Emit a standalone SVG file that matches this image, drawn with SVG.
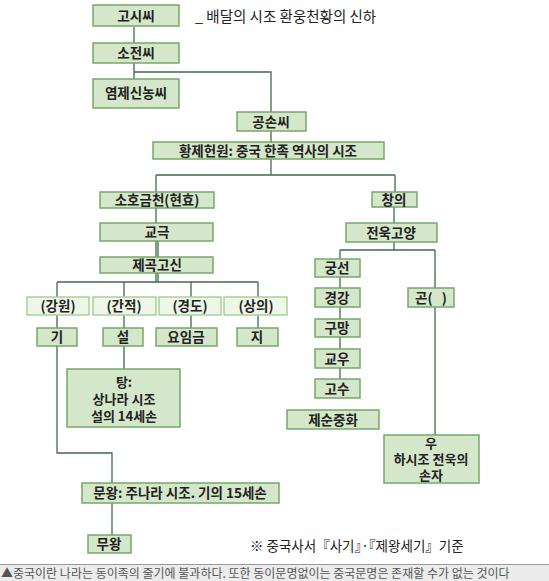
<svg xmlns="http://www.w3.org/2000/svg" width="549" height="581" viewBox="0 0 549 581">
<style>
.b{fill:#d5e7ca;stroke:#76a86a;stroke-width:1.5}
.l{fill:#eef6e8;stroke:#a9cf9b;stroke-width:1.5}
.t{font-family:"Noto Sans CJK KR","Noto Sans",sans-serif;font-size:13.5px;font-weight:bold;fill:#222;text-anchor:middle}
.m{font-size:13px}
.c{fill:none;stroke:#3f6b4a;stroke-width:1.3}
.n{font-family:"Noto Sans CJK KR","Noto Sans",sans-serif;fill:#222}
</style>
<rect width="549" height="581" fill="#fff"/>
<g id="connectors" class="c">
<path d="M134 27V43M134 63V79M134 72H271V112"/>
<path d="M271 131V142M271 159V175M156 175H395M156 175V192M395 175V192"/>
<path d="M156 208V223M156 241V257M158 241V257M156 273V282M158 273V282M57 282H258M57 282V297M124 282V297M191 282V297M258 282V297"/>
<path d="M57 315V328M124 315V328M191 315V328M258 315V328"/>
<path d="M124 346V369M57 346V453H112V483M112 503V535"/>
<path d="M394 207V223M394 242V250M340 250H435M340 250V259M435 250V288"/>
<path d="M340 277V288M340 307V319M340 337V349M340 368V379M435 307V435"/>
</g>
<g id="n-gosi"><rect class="b" x="93" y="5" width="86" height="21"/><text class="t" x="136" y="20.5">고시씨</text></g>
<text class="n" x="195" y="22" font-size="14.5">_ 배달의 시조 환웅천황의 신하</text>
<g id="n-sojeon"><rect class="b" x="93" y="43" width="86" height="20"/><text class="t" x="136" y="57.5">소전씨</text></g>
<g id="n-yeomje"><rect class="b" x="93" y="79" width="86" height="29"/><text class="t" x="136" y="98">염제신농씨</text></g>
<g id="n-gongson"><rect class="b" x="237" y="112" width="69" height="19"/><text class="t" x="271" y="126.5">공손씨</text></g>
<g id="n-hwangje"><rect class="b" x="153" y="142" width="231" height="17"/><text class="t" x="268" y="155.5">황제헌원: 중국 한족 역사의 시조</text></g>
<g id="n-soho"><rect class="b" x="100" y="192" width="114" height="16"/><text class="t" x="157" y="205">소호금천(현효)</text></g>
<g id="n-gyogeuk"><rect class="b" x="100" y="223" width="113" height="18"/><text class="t" x="157" y="237">교극</text></g>
<g id="n-jegok"><rect class="b" x="100" y="257" width="113" height="16"/><text class="t" x="157" y="270">제곡고신</text></g>
<g id="n-gangwon"><rect class="l" x="27" y="297" width="62" height="18"/><text class="t" x="58" y="311">(강원)</text></g>
<g id="n-ganjeok"><rect class="l" x="93" y="297" width="63" height="18"/><text class="t" x="124" y="311">(간적)</text></g>
<g id="n-gyeongdo"><rect class="l" x="159" y="297" width="62" height="18"/><text class="t" x="190" y="311">(경도)</text></g>
<g id="n-sangui"><rect class="l" x="224" y="297" width="63" height="18"/><text class="t" x="256" y="311">(상의)</text></g>
<g id="n-gi"><rect class="b" x="37" y="328" width="40" height="18"/><text class="t" x="57" y="342">기</text></g>
<g id="n-seol"><rect class="b" x="103" y="328" width="40" height="18"/><text class="t" x="123" y="342">설</text></g>
<g id="n-yo"><rect class="b" x="156" y="328" width="61" height="18"/><text class="t" x="186" y="342">요임금</text></g>
<g id="n-ji"><rect class="b" x="237" y="328" width="41" height="18"/><text class="t" x="257" y="342">지</text></g>
<g id="n-tang"><rect class="b" x="67" y="369" width="113" height="58"/><text class="t m"><tspan x="124" y="387">탕:</tspan><tspan x="124" y="404">상나라 시조</tspan><tspan x="124" y="421">설의 14세손</tspan></text></g>
<g id="n-munwang"><rect class="b" x="82" y="483" width="197" height="20"/><text class="t" x="180" y="497.5">문왕: 주나라 시조. 기의 15세손</text></g>
<g id="n-muwang"><rect class="b" x="88" y="535" width="43" height="18"/><text class="t" x="109" y="549">무왕</text></g>
<g id="n-changui"><rect class="b" x="372" y="192" width="45" height="15"/><text class="t" x="394" y="204.5">창의</text></g>
<g id="n-jeonuk"><rect class="b" x="346" y="223" width="91" height="19"/><text class="t" x="391" y="237.5">전욱고양</text></g>
<g id="n-gungseon"><rect class="b" x="315" y="259" width="45" height="18"/><text class="t" x="337" y="273">궁선</text></g>
<g id="n-gyeonggang"><rect class="b" x="315" y="288" width="45" height="19"/><text class="t" x="337" y="302.5">경강</text></g>
<g id="n-gumang"><rect class="b" x="315" y="319" width="45" height="18"/><text class="t" x="337" y="333">구망</text></g>
<g id="n-gyowu"><rect class="b" x="315" y="349" width="45" height="19"/><text class="t" x="337" y="363.5">교우</text></g>
<g id="n-gosu"><rect class="b" x="315" y="379" width="45" height="19"/><text class="t" x="337" y="393.5">고수</text></g>
<g id="n-jesun"><rect class="b" x="287" y="410" width="92" height="19"/><text class="t" x="333" y="424.5">제순중화</text></g>
<g id="n-gon"><rect class="b" x="408" y="288" width="46" height="19"/><text class="t" x="431" y="302.5">곤(&#160;&#160;&#160;)</text></g>
<g id="n-u"><rect class="b" x="384" y="435" width="95" height="48"/><text class="t m"><tspan x="431" y="448">우</tspan><tspan x="431" y="464">하시조 전욱의</tspan><tspan x="431" y="480">손자</tspan></text></g>
<text class="n" x="250" y="551" font-size="13.5">※ 중국사서『사기』·『제왕세기』기준</text>
<rect x="0" y="564" width="549" height="17" fill="#ececec"/>
<line x1="0" y1="564.5" x2="549" y2="564.5" stroke="#999" stroke-width="1"/>
<text x="1" y="577.5" font-family="'Noto Sans CJK KR','Noto Sans',sans-serif" font-size="12" fill="#555">▲중국이란 나라는 동이족의 줄기에 불과하다. 또한 동이문명없이는 중국문명은 존재할 수가 없는 것이다</text>
</svg>
